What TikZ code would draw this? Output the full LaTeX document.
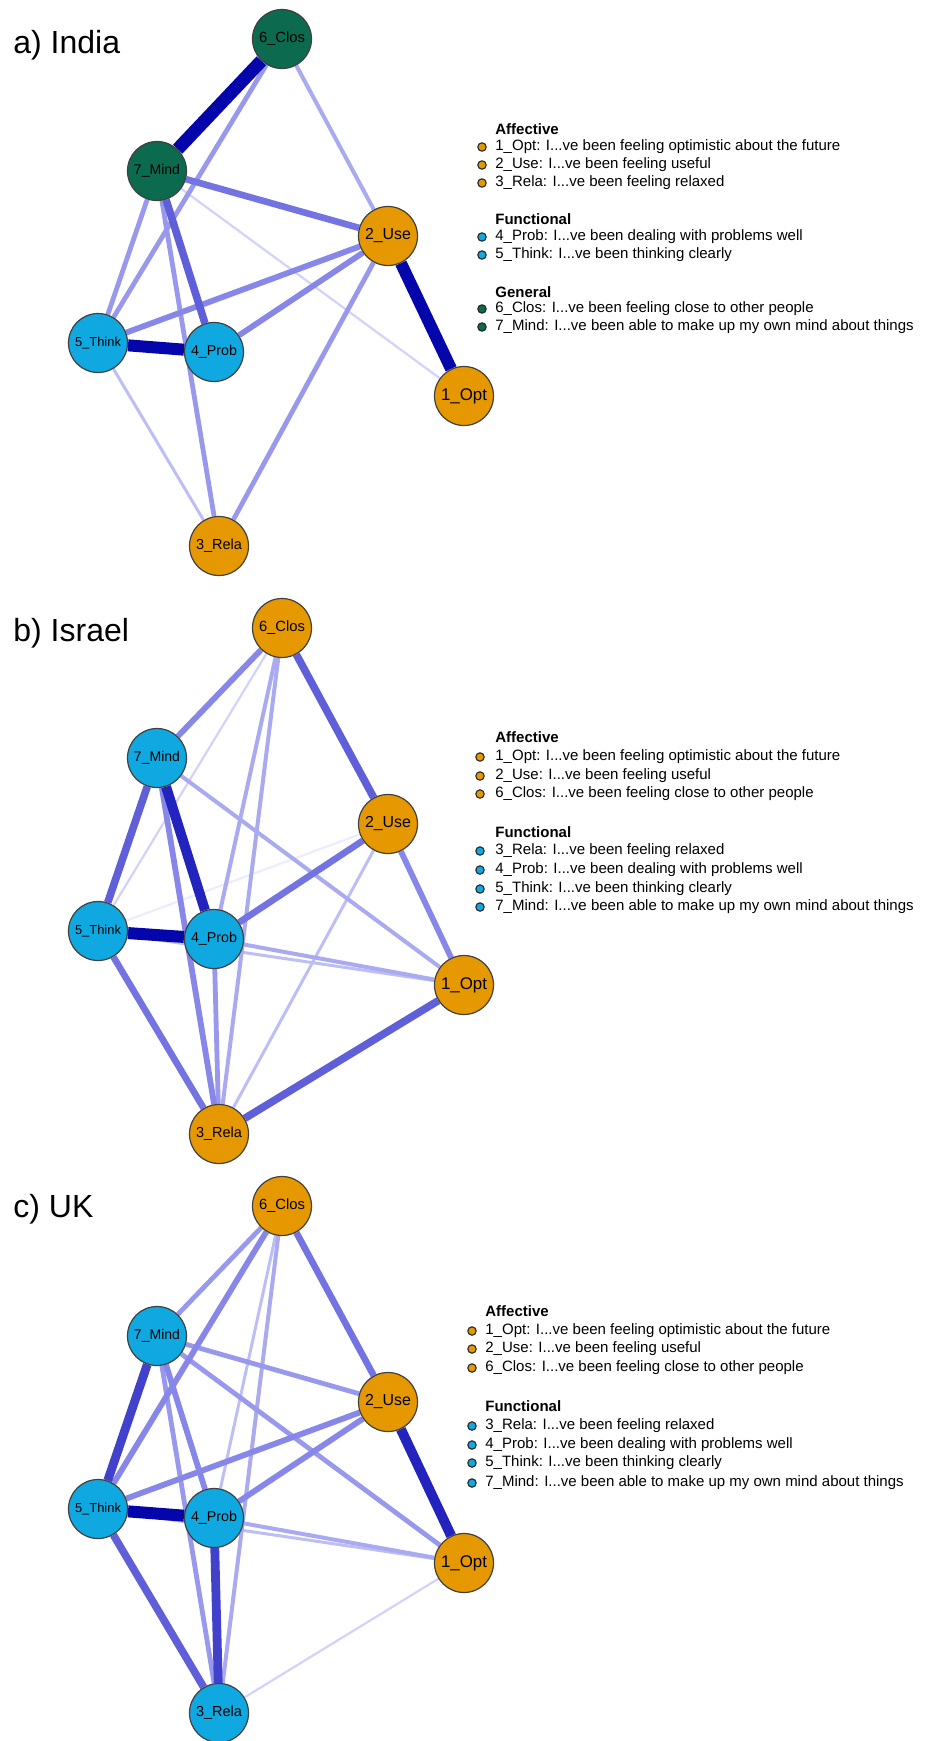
\documentclass[tikz,border=0pt]{standalone}
\usepackage{fontspec}
\usepackage{graphicx}
\setmainfont{Liberation Sans}
\usetikzlibrary{backgrounds}

\definecolor{affcol}{RGB}{230,152,0}
\definecolor{funcol}{RGB}{16,168,224}
\definecolor{gencol}{RGB}{12,106,78}
\definecolor{ecn}{RGB}{236,236,252}
\definecolor{ec0}{RGB}{210,210,250}
\definecolor{ec1}{RGB}{190,190,246}
\definecolor{ec2}{RGB}{170,170,241}
\definecolor{ec3}{RGB}{152,152,237}
\definecolor{ec4}{RGB}{135,135,233}
\definecolor{ec5}{RGB}{115,115,226}
\definecolor{ec6}{RGB}{95,95,217}
\definecolor{ec7}{RGB}{65,65,204}
\definecolor{ec8}{RGB}{35,35,190}
\definecolor{ec9}{RGB}{5,5,172}

\newcommand{\nlab}[1]{\resizebox{23pt}{!}{#1}}

\tikzset{
  item/.style={circle,draw=black!75,line width=0.6pt,minimum size=29.5pt,inner sep=0pt},
  aff/.style={item,fill=affcol},
  fun/.style={item,fill=funcol},
  gen/.style={item,fill=gencol},
  dot/.style={circle,draw=black!85,line width=0.55pt,minimum size=4.2pt,inner sep=0pt,fill=#1},
  leg/.style={anchor=west,inner sep=0pt,font=\fontsize{7.5pt}{9pt}\selectfont},
  head/.style={anchor=west,inner sep=0pt,font=\fontsize{7.5pt}{9pt}\selectfont\bfseries},
  panel/.style={anchor=west,inner sep=0pt,font=\fontsize{16pt}{19pt}\selectfont},
  wn/.style={draw=ecn,line width=1.1pt},
  w0/.style={draw=ec0,line width=1.1pt},
  w1/.style={draw=ec1,line width=1.5pt},
  w2/.style={draw=ec2,line width=2pt},
  w3/.style={draw=ec3,line width=2.4pt},
  w4/.style={draw=ec4,line width=2.9pt},
  w5/.style={draw=ec5,line width=3.3pt},
  w6/.style={draw=ec6,line width=3.8pt},
  w7/.style={draw=ec7,line width=4.4pt},
  w8/.style={draw=ec8,line width=5pt},
  w9/.style={draw=ec9,line width=6pt}
}

\begin{document}
\begin{tikzpicture}[x=0.5pt,y=-0.5pt]
    \useasboundingbox (0,0) rectangle (933,1741);

    % a) India
    \node[panel] (ta) at (13,45) {a) India};
    \node[aff] (a1) at (464,396) {\nlab{1\_Opt}};
    \node[aff] (a2) at (388,236) {\nlab{2\_Use}};
    \node[aff] (a3) at (219,546) {\nlab{3\_Rela}};
    \node[fun] (a4) at (214,352) {\nlab{4\_Prob}};
    \node[fun] (a5) at (98,343) {\nlab{5\_Think}};
    \node[gen] (a6) at (282,39) {\nlab{6\_Clos}};
    \node[gen] (a7) at (157,171) {\nlab{7\_Mind}};

    \begin{scope}[on background layer]
    \path (a7) edge[w0] (a1);
    \path (a5) edge[w1] (a3);
    \path (a6) edge[w2] (a2);
    \path (a6) edge[w3] (a5);
    \path (a7) edge[w3] (a5);
    \path (a7) edge[w3] (a3);
    \path (a2) edge[w3] (a3);
    \path (a2) edge[w4] (a5);
    \path (a2) edge[w4] (a4);
    \path (a7) edge[w5] (a2);
    \path (a7) edge[w6] (a4);
    \path (a5) edge[w9] (a4);
    \path (a2) edge[w9] (a1);
    \path (a6) edge[w9,line width=6.5pt] (a7);
    \end{scope}

    \node[head] (ha1) at (495,129) {Affective};
    \node[dot=affcol] (da1) at (482,147) {};
    \node[leg] (la1) at (495,147) {1\_Opt: I...ve been feeling optimistic about the future};
    \node[dot=affcol] (da2) at (482,165) {};
    \node[leg] (la2) at (495,165) {2\_Use: I...ve been feeling useful};
    \node[dot=affcol] (da3) at (482,183) {};
    \node[leg] (la3) at (495,183) {3\_Rela: I...ve been feeling relaxed};
    \node[head] (ha2) at (495,219) {Functional};
    \node[dot=funcol] (da4) at (482,237) {};
    \node[leg] (la4) at (495,237) {4\_Prob: I...ve been dealing with problems well};
    \node[dot=funcol] (da5) at (482,255) {};
    \node[leg] (la5) at (495,255) {5\_Think: I...ve been thinking clearly};
    \node[head] (ha3) at (495,292) {General};
    \node[dot=gencol] (da6) at (482,309) {};
    \node[leg] (la6) at (495,309) {6\_Clos: I...ve been feeling close to other people};
    \node[dot=gencol] (da7) at (482,327) {};
    \node[leg] (la7) at (495,327) {7\_Mind: I...ve been able to make up my own mind about things};

    % b) Israel
    \node[panel] (tb) at (13,633) {b) Israel};
    \node[aff] (b1) at (464,985) {\nlab{1\_Opt}};
    \node[aff] (b2) at (388,824) {\nlab{2\_Use}};
    \node[aff] (b3) at (219,1134) {\nlab{3\_Rela}};
    \node[fun] (b4) at (214,939) {\nlab{4\_Prob}};
    \node[fun] (b5) at (98,931) {\nlab{5\_Think}};
    \node[aff] (b6) at (282,628) {\nlab{6\_Clos}};
    \node[fun] (b7) at (157,758) {\nlab{7\_Mind}};

    \begin{scope}[on background layer]
    \path (b5) edge[wn] (b2);
    \path (b6) edge[w0] (b5);
    \path (b2) edge[w1] (b3);
    \path (b5) edge[w1] (b1);
    \path (b7) edge[w2] (b1);
    \path (b6) edge[w2] (b4);
    \path (b6) edge[w2] (b3);
    \path (b4) edge[w2] (b1);
    \path (b4) edge[w3] (b3);
    \path (b7) edge[w4] (b3);
    \path (b2) edge[w4] (b1);
    \path (b6) edge[w4] (b7);
    \path (b5) edge[w5] (b3);
    \path (b4) edge[w5] (b2);
    \path (b3) edge[w6] (b1);
    \path (b6) edge[w6] (b2);
    \path (b7) edge[w6] (b5);
    \path (b7) edge[w8] (b4);
    \path (b5) edge[w9] (b4);
    \end{scope}

    \node[head] (hb1) at (495,737) {Affective};
    \node[dot=affcol] (db1) at (480,757) {};
    \node[leg] (lb1) at (495,757) {1\_Opt: I...ve been feeling optimistic about the future};
    \node[dot=affcol] (db2) at (480,776) {};
    \node[leg] (lb2) at (495,776) {2\_Use: I...ve been feeling useful};
    \node[dot=affcol] (db6) at (480,794) {};
    \node[leg] (lb6) at (495,794) {6\_Clos: I...ve been feeling close to other people};
    \node[head] (hb2) at (495,832) {Functional};
    \node[dot=funcol] (db3) at (480,851) {};
    \node[leg] (lb3) at (495,851) {3\_Rela: I...ve been feeling relaxed};
    \node[dot=funcol] (db4) at (480,870) {};
    \node[leg] (lb4) at (495,870) {4\_Prob: I...ve been dealing with problems well};
    \node[dot=funcol] (db5) at (480,889) {};
    \node[leg] (lb5) at (495,889) {5\_Think: I...ve been thinking clearly};
    \node[dot=funcol] (db7) at (480,907) {};
    \node[leg] (lb7) at (495,907) {7\_Mind: I...ve been able to make up my own mind about things};

    % c) UK
    \node[panel] (tc) at (13,1209) {c) UK};
    \node[aff] (c1) at (464,1563) {\nlab{1\_Opt}};
    \node[aff] (c2) at (388,1402) {\nlab{2\_Use}};
    \node[fun] (c3) at (219,1713) {\nlab{3\_Rela}};
    \node[fun] (c4) at (214,1518) {\nlab{4\_Prob}};
    \node[fun] (c5) at (98,1509) {\nlab{5\_Think}};
    \node[aff] (c6) at (282,1206) {\nlab{6\_Clos}};
    \node[fun] (c7) at (157,1336) {\nlab{7\_Mind}};

    \begin{scope}[on background layer]
    \path (c3) edge[w0] (c1);
    \path (c6) edge[w1] (c4);
    \path (c5) edge[w1] (c1);
    \path (c4) edge[w2] (c1);
    \path (c6) edge[w2] (c3);
    \path (c7) edge[w3] (c3);
    \path (c7) edge[w3] (c2);
    \path (c6) edge[w3] (c7);
    \path (c7) edge[w3] (c1);
    \path (c4) edge[w4] (c2);
    \path (c7) edge[w4] (c4);
    \path (c5) edge[w4] (c2);
    \path (c6) edge[w4] (c5);
    \path (c6) edge[w5] (c2);
    \path (c5) edge[w6] (c3);
    \path (c4) edge[w7] (c3);
    \path (c7) edge[w7] (c5);
    \path (c2) edge[w8] (c1);
    \path (c5) edge[w9] (c4);
    \end{scope}

    \node[head] (hc1) at (485,1311) {Affective};
    \node[dot=affcol] (dc1) at (472,1331) {};
    \node[leg] (lc1) at (485,1331) {1\_Opt: I...ve been feeling optimistic about the future};
    \node[dot=affcol] (dc2) at (472,1349) {};
    \node[leg] (lc2) at (485,1349) {2\_Use: I...ve been feeling useful};
    \node[dot=affcol] (dc6) at (472,1368) {};
    \node[leg] (lc6) at (485,1368) {6\_Clos: I...ve been feeling close to other people};
    \node[head] (hc2) at (485,1406) {Functional};
    \node[dot=funcol] (dc3) at (472,1426) {};
    \node[leg] (lc3) at (485,1426) {3\_Rela: I...ve been feeling relaxed};
    \node[dot=funcol] (dc4) at (472,1445) {};
    \node[leg] (lc4) at (485,1445) {4\_Prob: I...ve been dealing with problems well};
    \node[dot=funcol] (dc5) at (472,1463) {};
    \node[leg] (lc5) at (485,1463) {5\_Think: I...ve been thinking clearly};
    \node[dot=funcol] (dc7) at (472,1483) {};
    \node[leg] (lc7) at (485,1483) {7\_Mind: I...ve been able to make up my own mind about things};
\end{tikzpicture}
\end{document}
